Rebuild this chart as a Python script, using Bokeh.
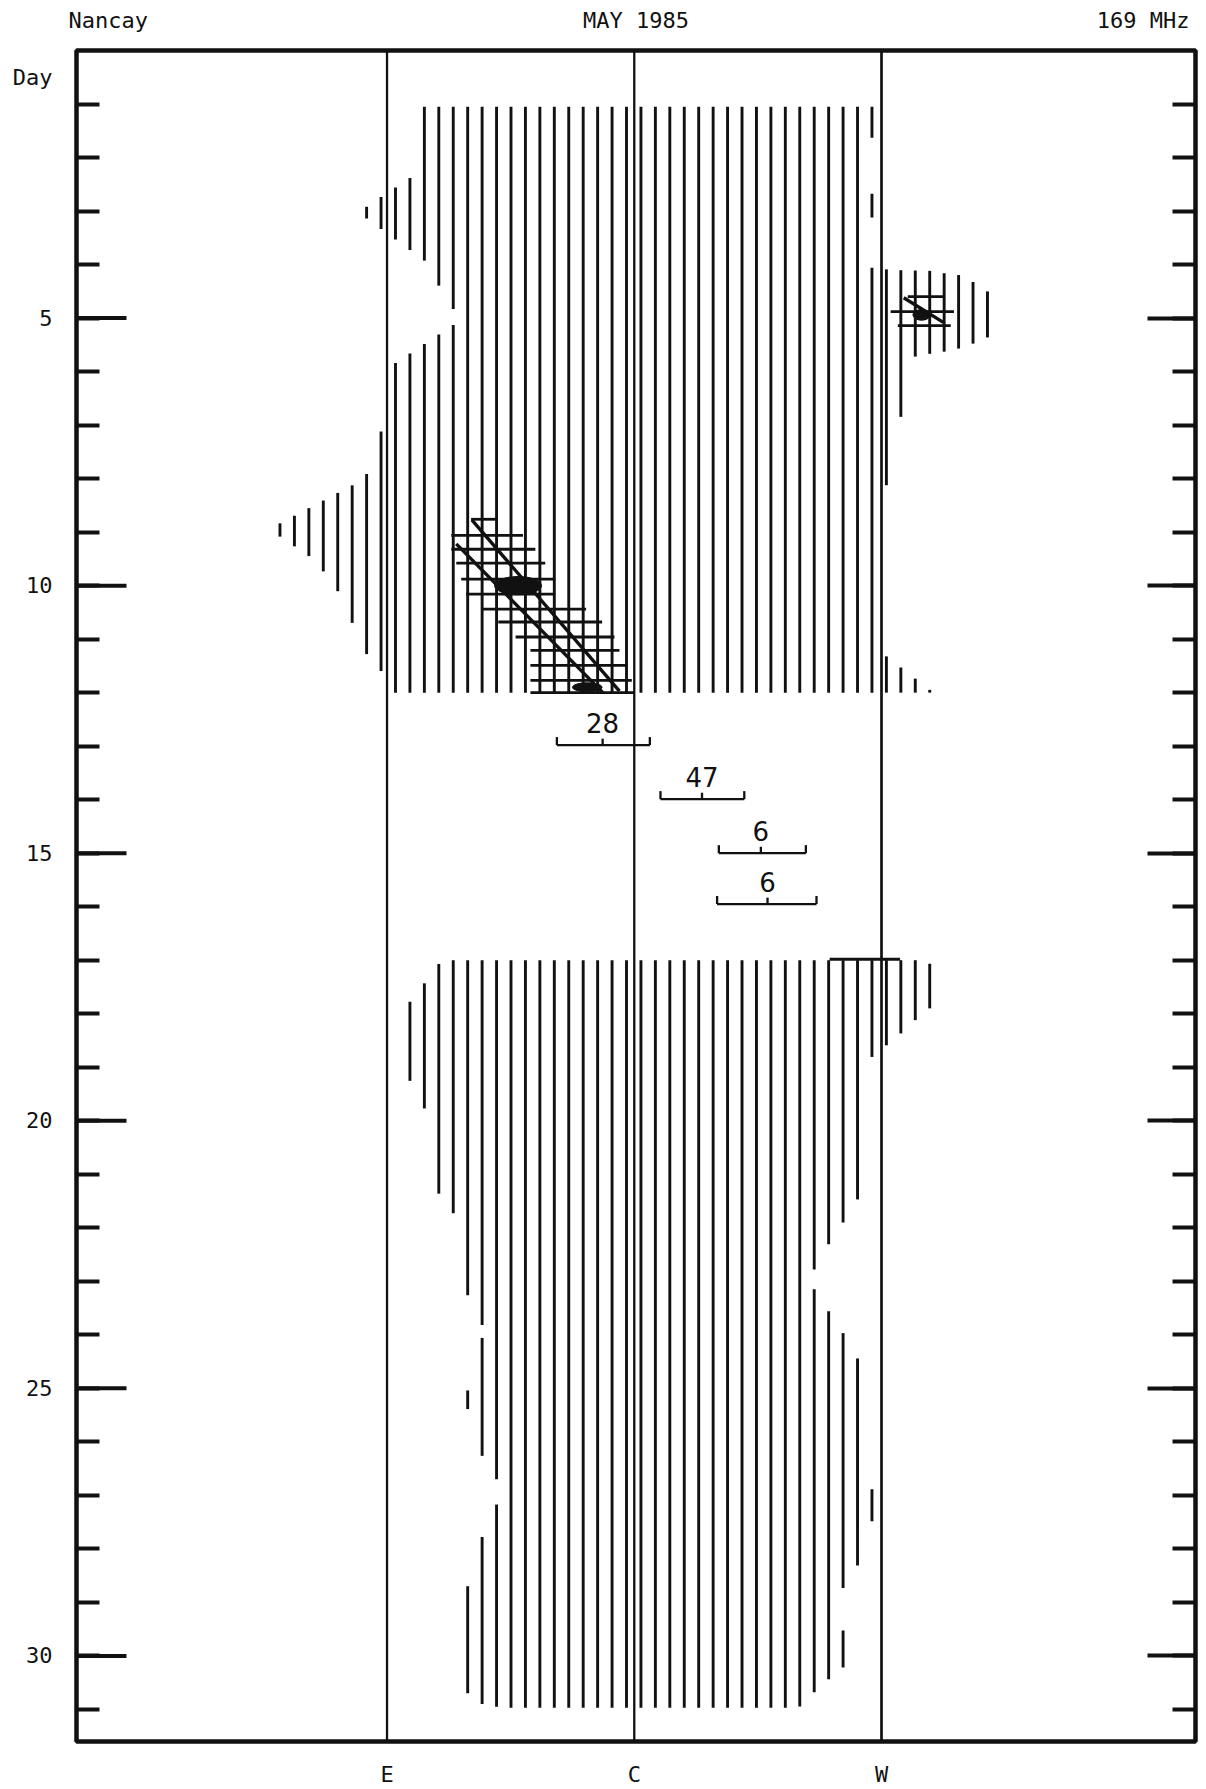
import numpy as np
from bokeh.plotting import figure
from bokeh.models import Range1d, FixedTicker, LinearAxis
from bokeh.embed import file_html
from bokeh.resources import INLINE
from bokeh.core.properties import value

# ---------------- data ----------------
day_ticks_major = [5, 10, 15, 20, 25, 30]
day_ticks_minor = list(range(1, 32))
day_label_pos = 0.51                         # where "Day" sits on the left axis
limb_positions = [-1.0, 0.0, 1.0]          # E, C, W
limb_labels = ["E", "C", "W"]
header_text = ["Nancay", "MAY 1985", "169 MHz"]
header_x = [-2.128, 0.007, 2.058]

# Storm 1 (1-12 May): day limits and east / west edges (x in units of the E-C distance)
s1_top, s1_bottom = 1.05, 12.0
s1_east_day = [1.0, 2.3, 3.0, 3.05, 3.92, 4.4, 4.85, 5.0, 5.12, 5.9, 7.3, 8.0, 8.9, 9.0,
               9.5, 10.0, 10.6, 11.25, 11.5, 12.0]
s1_east_x = [-0.88, -0.88, -1.11, -1.11, -0.85, -0.79, -0.73, -0.69, -0.73, -0.985, -1.03,
             -1.09, -1.46, -1.46, -1.30, -1.21, -1.15, -1.09, -1.03, -1.0]
s1_west_day = [1.0, 1.6, 1.65, 2.65, 2.7, 3.1, 3.15, 4.05, 4.1, 4.12, 4.17, 4.2, 4.35, 4.52,
               4.9, 5.35, 5.48, 5.57, 5.63, 5.67, 5.72, 5.76, 6.84, 6.87, 8.1, 8.15, 11.25, 12.0]
s1_west_x = [1.0, 1.0, 0.94, 0.94, 0.98, 0.98, 0.94, 0.94, 1.04, 1.22, 1.26, 1.32, 1.38, 1.435,
             1.46, 1.435, 1.37, 1.312, 1.253, 1.195, 1.137, 1.09, 1.09, 1.04, 1.04, 1.0, 1.0, 1.21]

# Storm 2 (17-31 May)
s2_top, s2_bottom = 17.0, 30.97
s2_east_day = [17.0, 17.07, 17.43, 17.77, 18.0, 19.0, 19.26, 19.77, 21.36, 21.73, 23.26, 23.82,
               23.93, 24.05, 24.9, 25.2, 25.55, 26.27, 26.7, 26.95, 27.17, 27.77, 28.7, 28.8,
               30.6, 30.7, 30.9, 31.0]
s2_east_x = [-0.74, -0.791, -0.849, -0.907, -0.93, -0.93, -0.907, -0.849, -0.791, -0.732, -0.674,
             -0.615, -0.58, -0.615, -0.66, -0.69, -0.66, -0.615, -0.557, -0.53, -0.557, -0.615,
             -0.674, -0.69, -0.69, -0.674, -0.615, -0.50]
s2_west_day = [17.0, 17.15, 17.85, 17.9, 18.12, 18.37, 18.59, 18.81, 19.0, 21.4, 21.47, 21.9,
               22.31, 22.78, 22.96, 23.15, 23.56, 23.97, 24.44, 24.6, 26.85, 26.9, 27.47, 27.52,
               28.2, 28.31, 28.7, 29.5, 29.56, 30.16, 30.44, 30.68, 30.95, 31.0]
s2_west_x = [1.18, 1.215, 1.215, 1.195, 1.137, 1.078, 1.02, 0.961, 0.92, 0.92, 0.903, 0.845,
             0.786, 0.728, 0.70, 0.728, 0.786, 0.845, 0.903, 0.93, 0.93, 0.975, 0.975, 0.93,
             0.93, 0.903, 0.845, 0.835, 0.86, 0.86, 0.786, 0.728, 0.669, 0.60]

# Cross-hatched (higher intensity) rows: day, east end, west end
xh_day = [8.76, 9.06, 9.32, 9.58, 9.88, 10.16, 10.44, 10.68, 10.96, 11.21, 11.49, 11.77, 12.0,
          4.60, 4.88, 5.14]
xh_x0 = [-0.66, -0.74, -0.74, -0.72, -0.70, -0.68, -0.62, -0.55, -0.48, -0.42, -0.42, -0.42,
         -0.42, 1.106, 1.037, 1.066]
xh_x1 = [-0.56, -0.45, -0.40, -0.36, -0.32, -0.32, -0.195, -0.13, -0.08, -0.06, -0.03, -0.01,
         0.0, 1.252, 1.293, 1.28]

# diagonal strokes through the cross-hatched areas
diag_x0 = [-0.657, -0.72, 1.09]
diag_d0 = [8.77, 9.22, 4.62]
diag_x1 = [-0.06, -0.127, 1.25]
diag_d1 = [11.97, 12.0, 5.08]

# black cores
core_x = [-0.47, -0.19, 1.162]
core_day = [10.0, 11.9, 4.94]
core_w = [0.19, 0.12, 0.07]
core_h = [0.34, 0.17, 0.20]

# marker bar on 17 May near W
bar_day = [16.98]
bar_x0 = [0.79]
bar_x1 = [1.075]

# single events (day, east end, west end, centre, label)
ev_day = [12.98, 13.99, 15.0, 15.95]
ev_x0 = [-0.313, 0.106, 0.342, 0.335]
ev_x1 = [0.063, 0.445, 0.694, 0.737]
ev_xc = [-0.128, 0.274, 0.512, 0.539]
ev_label = ["28", "47", "6", "6"]

# ---------------- style / layout ----------------
HATCH_X0 = -0.849
HATCH_STEP = 0.0584
INK = "#111111"
MONO = "DejaVu Sans Mono"
X_LEFT, X_RIGHT = -2.256, 2.270
LONG_TICK = 50 / 247.25      # long day ticks, in x units

p = figure(frame_width=1119, frame_height=1691,
           x_range=Range1d(X_LEFT, X_RIGHT), y_range=Range1d(31.6, 0.0),
           output_backend="svg", toolbar_location=None,
           min_border_left=76, min_border_right=6, min_border_top=50, min_border_bottom=44,
           background_fill_color="white", border_fill_color="white")
p.xgrid.visible = False
p.ygrid.visible = False
p.outline_line_color = INK
p.outline_line_width = 4.5


def hatch_segments(top, bottom, ed, ex, wd, wx, kmin, kmax):
    days = np.arange(top, bottom + 1e-9, 0.002)
    east = np.interp(days, ed, ex)
    west = np.interp(days, wd, wx)
    xs, y0s, y1s = [], [], []
    for k in range(kmin, kmax + 1):
        xk = HATCH_X0 + HATCH_STEP * k
        inside = ((east <= xk) & (xk <= west)).astype(int)
        edges = np.flatnonzero(np.diff(np.concatenate([[0], inside, [0]])))
        for a, b in zip(edges[::2], edges[1::2]):
            if b - a >= 3:
                xs.append(xk)
                y0s.append(days[a])
                y1s.append(days[b - 1])
    return xs, y0s, y1s


for args in [(s1_top, s1_bottom, s1_east_day, s1_east_x, s1_west_day, s1_west_x, -12, 42),
             (s2_top, s2_bottom, s2_east_day, s2_east_x, s2_west_day, s2_west_x, -4, 38)]:
    xs, y0s, y1s = hatch_segments(*args)
    p.segment(x0=xs, y0=y0s, x1=xs, y1=y1s, line_color=INK, line_width=2.9)

# limb / central meridian lines
p.segment(x0=limb_positions, y0=[0.0] * 3, x1=limb_positions, y1=[31.6] * 3,
          line_color=INK, line_width=[2.3, 2.3, 2.7])

# cross-hatch rows, diagonals, cores
p.segment(x0=xh_x0, y0=xh_day, x1=xh_x1, y1=xh_day, line_color=INK, line_width=2.8)
p.segment(x0=diag_x0, y0=diag_d0, x1=diag_x1, y1=diag_d1, line_color=INK, line_width=3.4)
p.ellipse(x=core_x, y=core_day, width=core_w, height=core_h, fill_color=INK, line_color=INK)
p.segment(x0=bar_x0, y0=bar_day, x1=bar_x1, y1=bar_day, line_color=INK, line_width=3)

# event brackets
ev_top = [d - 0.15 for d in ev_day]
ev_mid_top = [d - 0.12 for d in ev_day]
p.segment(x0=ev_x0, y0=ev_day, x1=ev_x1, y1=ev_day, line_color=INK, line_width=2.3)
p.segment(x0=ev_x0, y0=ev_day, x1=ev_x0, y1=ev_top, line_color=INK, line_width=2.3)
p.segment(x0=ev_x1, y0=ev_day, x1=ev_x1, y1=ev_top, line_color=INK, line_width=2.3)
p.segment(x0=ev_xc, y0=ev_day, x1=ev_xc, y1=ev_mid_top, line_color=INK, line_width=2.3)
p.text(x=ev_xc, y=[d - 0.42 for d in ev_day], text=ev_label, text_align="center",
       text_baseline="middle", text_font=value("DejaVu Sans"), text_font_size="26px",
       text_color=INK)

# long ticks every 5 days on the left edge
p.segment(x0=[X_LEFT] * len(day_ticks_major), y0=day_ticks_major,
          x1=[X_LEFT + LONG_TICK] * len(day_ticks_major), y1=day_ticks_major,
          line_color=INK, line_width=4)

# left axis (days, with "Day" caption as a label)
ya = p.left[0]
ya.ticker = FixedTicker(ticks=[day_label_pos] + day_ticks_major, minor_ticks=day_ticks_minor)
ya.major_label_overrides = {day_label_pos: "Day"}
ya.axis_line_color = None
ya.major_tick_in = 0
ya.major_tick_out = 0
ya.minor_tick_in = 23
ya.minor_tick_out = 0
ya.minor_tick_line_width = 4
ya.minor_tick_line_color = INK
ya.major_label_standoff = 24
ya.major_label_text_font = MONO
ya.major_label_text_font_size = "22px"
ya.major_label_text_color = INK

# bottom axis (E C W)
xa = p.below[0]
xa.ticker = FixedTicker(ticks=limb_positions, minor_ticks=[])
xa.major_label_overrides = {int(v): s for v, s in zip(limb_positions, limb_labels)}
xa.axis_line_color = None
xa.major_tick_in = 0
xa.major_tick_out = 0
xa.minor_tick_in = 0
xa.minor_tick_out = 0
xa.major_label_standoff = 20
xa.major_label_text_font = MONO
xa.major_label_text_font_size = "22px"
xa.major_label_text_color = INK

# right axis (ticks only)
ra = LinearAxis(ticker=FixedTicker(ticks=day_ticks_major, minor_ticks=day_ticks_minor),
                axis_line_color=None, major_tick_in=48, major_tick_out=0,
                minor_tick_in=23, minor_tick_out=0, major_tick_line_width=4,
                minor_tick_line_width=4, major_tick_line_color=INK, minor_tick_line_color=INK,
                major_label_standoff=0, major_label_text_font_size="0px",
                major_label_overrides={t: "" for t in day_ticks_major})
p.add_layout(ra, "right")

# top axis carrying the header texts
ta = LinearAxis(ticker=FixedTicker(ticks=header_x, minor_ticks=[]),
                major_label_overrides=dict(zip(header_x, header_text)),
                axis_line_color=None, major_tick_in=0, major_tick_out=0,
                minor_tick_in=0, minor_tick_out=0, major_label_standoff=18,
                major_label_text_font=MONO, major_label_text_font_size="22px",
                major_label_text_color=INK)
p.add_layout(ta, "above")

open("out.html", "w").write(file_html(p, INLINE))
